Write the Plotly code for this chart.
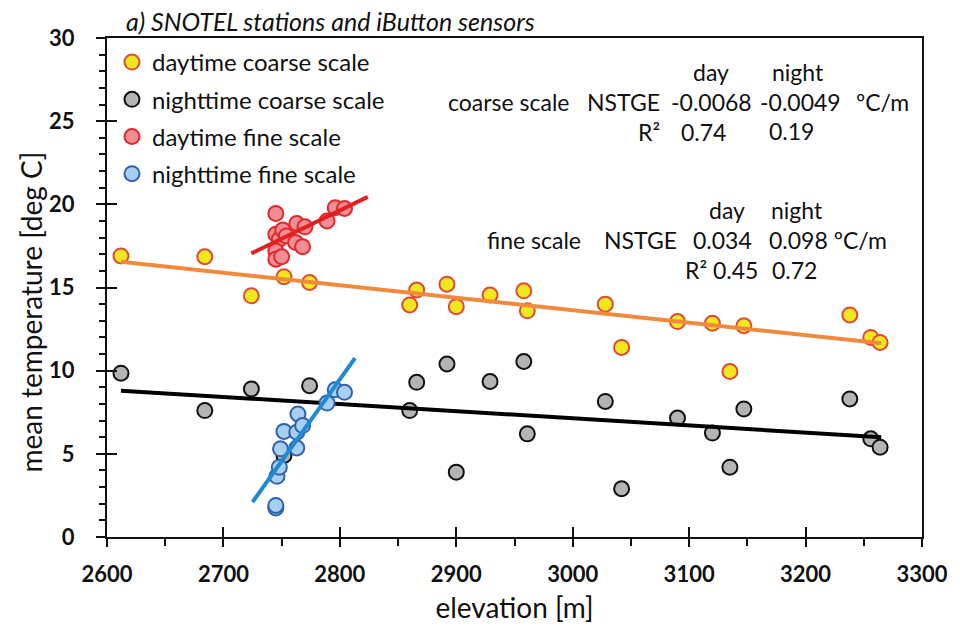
import plotly.graph_objects as go

# ---- coarse scale (SNOTEL stations) ----
coarse_elev = [2612, 2684, 2724, 2752, 2774, 2860, 2866, 2892, 2900, 2929, 2958,
               2961, 3028, 3042, 3090, 3120, 3135, 3147, 3238, 3256, 3264]
coarse_day = [16.9, 16.85, 14.5, 15.65, 15.3, 13.95, 14.85, 15.2, 13.85, 14.55, 14.8,
              13.6, 14.0, 11.4, 12.95, 12.85, 9.95, 12.7, 13.35, 12.0, 11.7]
coarse_night = [9.85, 7.6, 8.9, 4.9, 9.1, 7.6, 9.3, 10.4, 3.9, 9.35, 10.55,
                6.2, 8.15, 2.9, 7.15, 6.25, 4.2, 7.7, 8.3, 5.9, 5.4]

# ---- fine scale (iButton sensors) ----
fine_day_elev = [2745, 2745, 2748, 2751, 2754, 2745, 2745, 2750, 2762, 2763,
                 2770, 2768, 2789, 2796, 2804]
fine_day = [19.45, 18.2, 17.9, 18.45, 18.1, 17.2, 16.7, 16.85, 17.7, 18.85,
            18.65, 17.45, 19.0, 19.8, 19.75]

fine_night_elev = [2745, 2745, 2746, 2748, 2749, 2752, 2763, 2763, 2764, 2768,
                   2789, 2796, 2804]
fine_night = [1.75, 1.9, 3.65, 4.2, 5.3, 6.35, 5.35, 6.3, 7.4, 6.7,
              8.05, 8.85, 8.7]

# ---- regression lines (end points) ----
fit_coarse_x = [2612, 3265]
fit_coarse_day_y = [16.55, 11.65]
fit_coarse_night_y = [8.8, 6.0]
fit_fine_day_x = [2724, 2824]
fit_fine_day_y = [17.05, 20.45]
fit_fine_night_x = [2725, 2813]
fit_fine_night_y = [2.1, 10.75]

# ---- statistics table ----
coarse_stats = {"day_slope": "-0.0068", "night_slope": "-0.0049", "day_r2": "0.74", "night_r2": "0.19"}
fine_stats = {"day_slope": "0.034", "night_slope": "0.098", "day_r2": "0.45", "night_r2": "0.72"}

FONT = "Lato"
W, H = 960, 636
L, R, T, B = 107, 928, 38, 537


def px(x):
    return (x - L) / (R - L)


def py(y):
    return (B - y) / (B - T)


fig = go.Figure()

mk = dict(size=15)
fig.add_trace(go.Scatter(x=coarse_elev, y=coarse_night, mode="markers",
                         name="nighttime coarse scale", legendgroup="b", legendrank=2,
                         marker=dict(**mk, color="#b4b4b4", line=dict(color="#111111", width=2))))
fig.add_trace(go.Scatter(x=coarse_elev, y=coarse_day, mode="markers",
                         name="daytime coarse scale", legendgroup="a", legendrank=1,
                         marker=dict(**mk, color="#f0e81e", line=dict(color="#e0483a", width=2))))
fig.add_trace(go.Scatter(x=fit_coarse_x, y=fit_coarse_day_y, mode="lines", showlegend=False,
                         line=dict(color="#f28a3e", width=4), hoverinfo="skip"))
fig.add_trace(go.Scatter(x=fit_coarse_x, y=fit_coarse_night_y, mode="lines", showlegend=False,
                         line=dict(color="#000000", width=4), hoverinfo="skip"))
fig.add_trace(go.Scatter(x=fine_day_elev, y=fine_day, mode="markers",
                         name="daytime fine scale", legendgroup="c", legendrank=3,
                         marker=dict(**mk, color="#ef8f93", line=dict(color="#e3282c", width=2))))
fig.add_trace(go.Scatter(x=fine_night_elev, y=fine_night, mode="markers",
                         name="nighttime fine scale", legendgroup="d", legendrank=4,
                         marker=dict(**mk, color="#a9cff0", line=dict(color="#2f63ad", width=2))))
fig.add_trace(go.Scatter(x=fit_fine_day_x, y=fit_fine_day_y, mode="lines", showlegend=False,
                         line=dict(color="#e41f1f", width=4), hoverinfo="skip"))
fig.add_trace(go.Scatter(x=fit_fine_night_x, y=fit_fine_night_y, mode="lines", showlegend=False,
                         line=dict(color="#1c8ad4", width=4), hoverinfo="skip"))
# invisible trace carrying the inner tick marks
fig.add_trace(go.Scatter(x=[2600], y=[0], xaxis="x2", yaxis="y2", mode="markers",
                         marker=dict(opacity=0), showlegend=False, hoverinfo="skip"))

tickfont = dict(family=FONT, size=22, color="#111111", weight="bold")
titlefont = dict(family=FONT, size=28, color="#111111")

fig.update_layout(
    width=W, height=H,
    margin=dict(l=L, r=W - R, t=T, b=H - B),
    paper_bgcolor="white", plot_bgcolor="white",
    showlegend=True,
    legend=dict(x=px(112), y=py(40), xanchor="left", yanchor="top",
                font=dict(family=FONT, size=24, color="#111111"),
                tracegroupgap=3, bgcolor="rgba(0,0,0,0)", itemwidth=30),
    xaxis=dict(range=[2600, 3300], dtick=100, tick0=2600, showgrid=False, zeroline=False,
               showline=True, linecolor="#111111", linewidth=2, mirror=True,
               ticks="outside", ticklen=8, tickwidth=2, tickcolor="#111111",
               minor=dict(dtick=50, ticks="outside", ticklen=7, tickwidth=2, tickcolor="#111111"),
               tickfont=tickfont, ticklabelstandoff=9,
               title=dict(text="elevation [m]", font=titlefont, standoff=12)),
    yaxis=dict(range=[0, 30], dtick=5, tick0=0, showgrid=False, zeroline=False,
               showline=True, linecolor="#111111", linewidth=2, mirror=True,
               ticks="outside", ticklen=9, tickwidth=2, tickcolor="#111111",
               minor=dict(dtick=1, ticks="outside", ticklen=6, tickwidth=2, tickcolor="#111111"),
               tickfont=tickfont, ticklabelstandoff=17),
    xaxis2=dict(range=[2600, 3300], dtick=100, overlaying="x", showticklabels=False,
                showgrid=False, zeroline=False, showline=False,
                ticks="inside", ticklen=10, tickwidth=2, tickcolor="#111111"),
    yaxis2=dict(range=[0, 30], dtick=5, overlaying="y", showticklabels=False,
                showgrid=False, zeroline=False, showline=False,
                ticks="inside", ticklen=10, tickwidth=2, tickcolor="#111111"),
)

# y-axis title, placed as a rotated annotation
fig.add_annotation(text="mean temperature [deg C]", xref="paper", yref="paper",
                   x=px(30), y=py(312), xanchor="center", yanchor="middle", textangle=-90,
                   showarrow=False, font=dict(family=FONT, size=28, color="#111111"))

ann_font = dict(family=FONT, size=23, color="#111111")


def label(text, x, y, anchor="left"):
    fig.add_annotation(text=text, xref="paper", yref="paper", x=px(x), y=py(y),
                       xanchor=anchor, yanchor="middle", showarrow=False, font=ann_font)


# chart title
fig.add_annotation(text="<i>a) SNOTEL stations and iButton sensors</i>", xref="paper", yref="paper",
                   x=px(124), y=py(21), xanchor="left", yanchor="middle", showarrow=False,
                   font=dict(family=FONT, size=25, color="#111111"))

# coarse scale statistics
label("day", 715, 72, "center")
label("night", 803, 72, "center")
label("coarse scale", 448, 102)
label("NSTGE", 589, 102)
label(coarse_stats["day_slope"], 716, 102, "center")
label(coarse_stats["night_slope"], 806, 102, "center")
label("ºC/m", 888, 102, "center")
label("R²", 666, 132, "right")
label(coarse_stats["day_r2"], 708, 132, "center")
label(coarse_stats["night_r2"], 797, 131, "center")

# fine scale statistics
label("day", 732, 210, "center")
label("night", 802, 210, "center")
label("fine scale", 488, 240)
label("NSTGE", 606, 240)
label(fine_stats["day_slope"], 727, 240, "center")
label(fine_stats["night_slope"] + " ºC/m", 772, 240)
label("R²", 713, 270, "right")
label(fine_stats["day_r2"], 740, 270, "center")
label(fine_stats["night_r2"], 800, 270, "center")

fig.write_html("out.html")
